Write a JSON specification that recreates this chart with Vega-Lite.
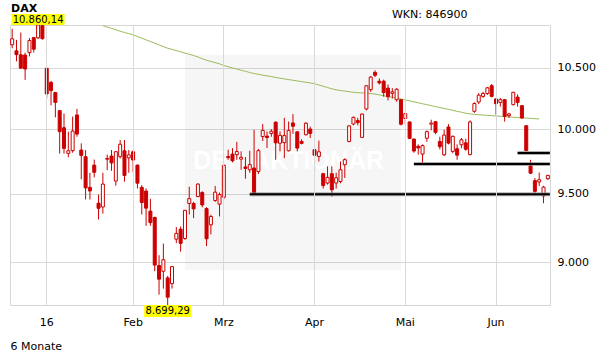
{
  "$schema": "https://vega.github.io/schema/vega-lite/v6.json",
  "width": 540,
  "height": 280,
  "autosize": {"type": "none"},
  "padding": {"left": 10, "top": 25, "right": 61, "bottom": 59},
  "background": "#ffffff",
  "config": {
    "view": {"stroke": "#d6d6d6", "strokeWidth": 1},
    "font": "DejaVu Sans",
    "axis": {"grid": true, "gridColor": "#d9d9d9", "gridWidth": 1, "ticks": false, "domain": false, "labelFont": "DejaVu Sans", "labelFontSize": 11, "labelColor": "#000000"}
  },
  "title": {"text": "DAX", "anchor": "start", "frame": "group", "font": "DejaVu Sans", "fontSize": 11, "fontWeight": "bold", "color": "#000000", "baseline": "alphabetic", "offset": 10, "dy": 25, "dx": 1},
  "datasets": {
    "k": [
      {"d":"2015-12-17","o":10691,"h":10828,"l":10662,"c":10742},
      {"d":"2015-12-18","o":10640,"h":10733,"l":10552,"c":10608},
      {"d":"2015-12-21","o":10607,"h":10795,"l":10490,"c":10495},
      {"d":"2015-12-22","o":10605,"h":10625,"l":10398,"c":10488},
      {"d":"2015-12-23","o":10625,"h":10749,"l":10593,"c":10727},
      {"d":"2015-12-28","o":10752,"h":10752,"l":10626,"c":10654},
      {"d":"2015-12-29","o":10750,"h":10860.14,"l":10740,"c":10860},
      {"d":"2015-12-30","o":10855,"h":10860,"l":10735,"c":10743},
      {"d":"2016-01-04","o":10494,"h":10494,"l":10247,"c":10283},
      {"d":"2016-01-05","o":10377,"h":10390,"l":10190,"c":10310},
      {"d":"2016-01-06","o":10294,"h":10300,"l":10094,"c":10214},
      {"d":"2016-01-07","o":10148,"h":10150,"l":9808,"c":9980},
      {"d":"2016-01-08","o":10011,"h":10125,"l":9808,"c":9849},
      {"d":"2016-01-11","o":9810,"h":9980,"l":9780,"c":9830},
      {"d":"2016-01-12","o":9831,"h":10100,"l":9815,"c":9985},
      {"d":"2016-01-13","o":10113,"h":10162,"l":9940,"c":9961},
      {"d":"2016-01-14","o":9836,"h":9888,"l":9610,"c":9794},
      {"d":"2016-01-15","o":9784,"h":9836,"l":9458,"c":9545},
      {"d":"2016-01-18","o":9549,"h":9660,"l":9458,"c":9522},
      {"d":"2016-01-19","o":9719,"h":9762,"l":9625,"c":9664},
      {"d":"2016-01-20","o":9430,"h":9495,"l":9309,"c":9392},
      {"d":"2016-01-21","o":9402,"h":9660,"l":9353,"c":9574,"ma":10855},
      {"d":"2016-01-22","o":9770,"h":9800,"l":9680,"c":9765,"ma":10843},
      {"d":"2016-01-25","o":9789,"h":9836,"l":9675,"c":9736,"ma":10831},
      {"d":"2016-01-26","o":9597,"h":9825,"l":9562,"c":9823,"ma":10819},
      {"d":"2016-01-27","o":9784,"h":9914,"l":9770,"c":9881,"ma":10807},
      {"d":"2016-01-28","o":9830,"h":9914,"l":9592,"c":9640,"ma":10796},
      {"d":"2016-01-29","o":9775,"h":9836,"l":9660,"c":9798,"ma":10786},
      {"d":"2016-02-01","o":9822,"h":9836,"l":9665,"c":9758,"ma":10776},
      {"d":"2016-02-02","o":9719,"h":9722,"l":9541,"c":9581,"ma":10762},
      {"d":"2016-02-03","o":9549,"h":9566,"l":9346,"c":9435,"ma":10748},
      {"d":"2016-02-04","o":9521,"h":9541,"l":9263,"c":9393,"ma":10733},
      {"d":"2016-02-05","o":9371,"h":9463,"l":9263,"c":9286,"ma":10719},
      {"d":"2016-02-08","o":9324,"h":9330,"l":8935,"c":8979,"ma":10705},
      {"d":"2016-02-09","o":8976,"h":9049,"l":8771,"c":8879,"ma":10690},
      {"d":"2016-02-10","o":8935,"h":9133,"l":8813,"c":9017,"ma":10676},
      {"d":"2016-02-11","o":8888,"h":8902,"l":8699.29,"c":8753,"ma":10662},
      {"d":"2016-02-12","o":8848,"h":8965,"l":8813,"c":8968,"ma":10652},
      {"d":"2016-02-15","o":9165,"h":9253,"l":9136,"c":9207,"ma":10642},
      {"d":"2016-02-16","o":9238,"h":9258,"l":9075,"c":9135,"ma":10632},
      {"d":"2016-02-17","o":9170,"h":9380,"l":9160,"c":9377,"ma":10621},
      {"d":"2016-02-18","o":9428,"h":9554,"l":9346,"c":9464,"ma":10611},
      {"d":"2016-02-19","o":9428,"h":9440,"l":9319,"c":9388,"ma":10601},
      {"d":"2016-02-22","o":9480,"h":9580,"l":9475,"c":9574,"ma":10588},
      {"d":"2016-02-23","o":9510,"h":9520,"l":9400,"c":9417,"ma":10574},
      {"d":"2016-02-24","o":9390,"h":9400,"l":9115,"c":9168,"ma":10561},
      {"d":"2016-02-25","o":9270,"h":9345,"l":9200,"c":9331,"ma":10551},
      {"d":"2016-02-26","o":9450,"h":9560,"l":9440,"c":9513,"ma":10541},
      {"d":"2016-02-29","o":9423,"h":9510,"l":9332,"c":9495,"ma":10531},
      {"d":"2016-03-01","o":9475,"h":9725,"l":9460,"c":9717,"ma":10517},
      {"d":"2016-03-02","o":9785,"h":9838,"l":9760,"c":9777,"ma":10507},
      {"d":"2016-03-03","o":9804,"h":9851,"l":9740,"c":9752,"ma":10497},
      {"d":"2016-03-04","o":9800,"h":9900,"l":9760,"c":9824,"ma":10488},
      {"d":"2016-03-07","o":9765,"h":9826,"l":9683,"c":9779,"ma":10478},
      {"d":"2016-03-08","o":9705,"h":9781,"l":9615,"c":9693,"ma":10469},
      {"d":"2016-03-09","o":9683,"h":9830,"l":9660,"c":9723,"ma":10459},
      {"d":"2016-03-10","o":9697,"h":9995,"l":9498,"c":9498,"ma":10450},
      {"d":"2016-03-11","o":9670,"h":9845,"l":9650,"c":9831,"ma":10444},
      {"d":"2016-03-14","o":9942,"h":10040,"l":9907,"c":9990,"ma":10437},
      {"d":"2016-03-15","o":9945,"h":9982,"l":9851,"c":9934,"ma":10431},
      {"d":"2016-03-16","o":9965,"h":10000,"l":9940,"c":9983,"ma":10425},
      {"d":"2016-03-17","o":10055,"h":10062,"l":9760,"c":9892,"ma":10418},
      {"d":"2016-03-18","o":9889,"h":9982,"l":9826,"c":9951,"ma":10412},
      {"d":"2016-03-21","o":9894,"h":10090,"l":9773,"c":9949,"ma":10406},
      {"d":"2016-03-22","o":9830,"h":10060,"l":9825,"c":9990,"ma":10400},
      {"d":"2016-03-23","o":10049,"h":10120,"l":9963,"c":10023,"ma":10395},
      {"d":"2016-03-24","o":9979,"h":9980,"l":9825,"c":9851,"ma":10389},
      {"d":"2016-03-29","o":9903,"h":9920,"l":9880,"c":9888,"ma":10384},
      {"d":"2016-03-30","o":9956,"h":10055,"l":9950,"c":10047,"ma":10378},
      {"d":"2016-03-31","o":10001,"h":10020,"l":9930,"c":9966,"ma":10373},
      {"d":"2016-04-01","o":9838,"h":9860,"l":9670,"c":9795,"ma":10367},
      {"d":"2016-04-04","o":9786,"h":9910,"l":9747,"c":9822,"ma":10356},
      {"d":"2016-04-05","o":9653,"h":9660,"l":9540,"c":9563,"ma":10346},
      {"d":"2016-04-06","o":9582,"h":9709,"l":9570,"c":9625,"ma":10335},
      {"d":"2016-04-07","o":9653,"h":9709,"l":9480,"c":9531,"ma":10325},
      {"d":"2016-04-08","o":9582,"h":9660,"l":9540,"c":9622,"ma":10316},
      {"d":"2016-04-11","o":9594,"h":9747,"l":9580,"c":9683,"ma":10311},
      {"d":"2016-04-12","o":9722,"h":9772,"l":9620,"c":9761,"ma":10306},
      {"d":"2016-04-13","o":9903,"h":10030,"l":9895,"c":10026,"ma":10301},
      {"d":"2016-04-14","o":10041,"h":10100,"l":10030,"c":10094,"ma":10296},
      {"d":"2016-04-15","o":10068,"h":10090,"l":10030,"c":10052,"ma":10293},
      {"d":"2016-04-18","o":9935,"h":10125,"l":9930,"c":10120,"ma":10291},
      {"d":"2016-04-19","o":10161,"h":10350,"l":10150,"c":10350,"ma":10289},
      {"d":"2016-04-20","o":10318,"h":10430,"l":10300,"c":10421,"ma":10286},
      {"d":"2016-04-21","o":10460,"h":10477,"l":10420,"c":10436,"ma":10282},
      {"d":"2016-04-22","o":10387,"h":10410,"l":10360,"c":10373,"ma":10275},
      {"d":"2016-04-25","o":10387,"h":10400,"l":10260,"c":10294,"ma":10268},
      {"d":"2016-04-26","o":10330,"h":10360,"l":10230,"c":10260,"ma":10262},
      {"d":"2016-04-27","o":10288,"h":10330,"l":10245,"c":10300,"ma":10255},
      {"d":"2016-04-28","o":10236,"h":10330,"l":10220,"c":10321,"ma":10249},
      {"d":"2016-04-29","o":10236,"h":10240,"l":10030,"c":10039,"ma":10242},
      {"d":"2016-05-02","o":10085,"h":10130,"l":10040,"c":10123,"ma":10234},
      {"d":"2016-05-03","o":10057,"h":10060,"l":9920,"c":9927,"ma":10226},
      {"d":"2016-05-04","o":9922,"h":9925,"l":9815,"c":9828,"ma":10219},
      {"d":"2016-05-05","o":9865,"h":9880,"l":9800,"c":9852,"ma":10211},
      {"d":"2016-05-06","o":9804,"h":9880,"l":9735,"c":9870,"ma":10203},
      {"d":"2016-05-09","o":9928,"h":9990,"l":9900,"c":9980,"ma":10196},
      {"d":"2016-05-10","o":10040,"h":10075,"l":9990,"c":10048,"ma":10188},
      {"d":"2016-05-11","o":10059,"h":10065,"l":9960,"c":9975,"ma":10180},
      {"d":"2016-05-12","o":9903,"h":9940,"l":9840,"c":9862,"ma":10173},
      {"d":"2016-05-13","o":9799,"h":9996,"l":9790,"c":9953,"ma":10165},
      {"d":"2016-05-17","o":10017,"h":10040,"l":9880,"c":9890,"ma":10158},
      {"d":"2016-05-18","o":9825,"h":9950,"l":9810,"c":9943,"ma":10150},
      {"d":"2016-05-19","o":9846,"h":9880,"l":9760,"c":9796,"ma":10142},
      {"d":"2016-05-20","o":9877,"h":9930,"l":9850,"c":9916,"ma":10135},
      {"d":"2016-05-23","o":9892,"h":9925,"l":9830,"c":9842,"ma":10127},
      {"d":"2016-05-24","o":9800,"h":10070,"l":9795,"c":10057,"ma":10121},
      {"d":"2016-05-25","o":10142,"h":10215,"l":10130,"c":10205,"ma":10118},
      {"d":"2016-05-26","o":10217,"h":10290,"l":10200,"c":10273,"ma":10115},
      {"d":"2016-05-27","o":10263,"h":10300,"l":10250,"c":10286,"ma":10112},
      {"d":"2016-05-30","o":10286,"h":10340,"l":10275,"c":10333,"ma":10110},
      {"d":"2016-05-31","o":10350,"h":10365,"l":10255,"c":10263,"ma":10107},
      {"d":"2016-06-01","o":10242,"h":10250,"l":10115,"c":10204,"ma":10105},
      {"d":"2016-06-02","o":10214,"h":10250,"l":10180,"c":10236,"ma":10102},
      {"d":"2016-06-03","o":10236,"h":10240,"l":10060,"c":10102,"ma":10100},
      {"d":"2016-06-06","o":10107,"h":10130,"l":10090,"c":10121,"ma":10097},
      {"d":"2016-06-07","o":10196,"h":10300,"l":10190,"c":10296,"ma":10095},
      {"d":"2016-06-08","o":10257,"h":10280,"l":10180,"c":10214,"ma":10093},
      {"d":"2016-06-09","o":10188,"h":10190,"l":10080,"c":10089,"ma":10090},
      {"d":"2016-06-10","o":10027,"h":10030,"l":9825,"c":9832,"ma":10088},
      {"d":"2016-06-13","o":9714,"h":9760,"l":9650,"c":9657,"ma":10086},
      {"d":"2016-06-14","o":9600,"h":9620,"l":9505,"c":9519,"ma":10083},
      {"d":"2016-06-15","o":9590,"h":9662,"l":9560,"c":9607,"ma":10081},
      {"d":"2016-06-16","o":9485,"h":9560,"l":9430,"c":9551},
      {"d":"2016-06-17","o":9615,"h":9645,"l":9605,"c":9640}
    ],
    "lv": [
      {"s":"2016-03-09","e":"2016-06-17","v":9498},
      {"s":"2016-05-04","e":"2016-06-17","v":9727},
      {"s":"2016-06-08","e":"2016-06-17","v":9812}
    ],
    "ext": [
      {"d":"2015-12-29","v":10860.14,"t":"10.860,14","pos":"top"},
      {"d":"2016-02-11","v":8699.29,"t":"8.699,29","pos":"bottom"}
    ],
    "wm": [
      {"a":"2016-02-17","b":"2016-04-29","top":10607,"bot":8944,"mid":"2016-03-22","yv":9752,"t":"DER AKTIONÄR"}
    ]
  },
  "layer": [
    {
      "data": {"name": "wm"},
      "mark": {"type": "rect", "fill": "#000000", "fillOpacity": 0.035},
      "encoding": {
        "x": {"field": "a", "type": "ordinal",
          "scale": {"type": "band", "paddingInner": 0, "paddingOuter": 0},
          "axis": {
            "values": ["2016-01-04","2016-02-01","2016-03-01","2016-04-01","2016-05-02","2016-06-01"],
            "labelExpr": "datum.value == '2016-01-04' ? '16' : datum.value == '2016-02-01' ? 'Feb' : datum.value == '2016-03-01' ? 'Mrz' : datum.value == '2016-04-01' ? 'Apr' : datum.value == '2016-05-02' ? 'Mai' : 'Jun'",
            "labelAngle": 0, "labelPadding": 11, "bandPosition": 0.5,
            "title": "6 Monate", "titleFont": "DejaVu Sans", "titleFontSize": 11, "titleFontWeight": "normal", "titleColor": "#000000",
            "titleAnchor": "start", "titleAlign": "left", "titleBaseline": "middle", "titleX": 0, "titleY": 41.5
          }
        },
        "x2": {"field": "b"},
        "y": {"field": "top", "type": "quantitative",
          "scale": {"type": "log", "domain": [8699.29, 10860.14], "nice": false, "zero": false},
          "axis": {
            "orient": "right", "values": [9000, 9500, 10000, 10500],
            "labelExpr": "replace(format(datum.value, ',.0f'), ',', '.')",
            "labelPadding": 7,
            "title": "WKN: 846900", "titleAngle": 0, "titleAlign": "right", "titleBaseline": "middle",
            "titleX": -83, "titleY": -11, "titleFont": "DejaVu Sans", "titleFontSize": 11, "titleFontWeight": "normal", "titleColor": "#000000"
          }
        },
        "y2": {"field": "bot"}
      }
    },
    {
      "data": {"name": "wm"},
      "mark": {"type": "text", "font": "Liberation Sans", "fontSize": 25, "fontWeight": "bold", "fill": "#ffffff", "align": "center", "baseline": "middle"},
      "encoding": {
        "x": {"field": "mid", "type": "ordinal"},
        "y": {"field": "yv", "type": "quantitative"},
        "text": {"field": "t"}
      }
    },
    {
      "data": {"name": "k"},
      "mark": {"type": "line", "color": "#9bbb59", "strokeWidth": 1},
      "encoding": {
        "x": {"field": "d", "type": "ordinal"},
        "y": {"field": "ma", "type": "quantitative"}
      }
    },
    {
      "data": {"name": "k"},
      "mark": {"type": "rule", "color": "#cc0000", "strokeWidth": 1},
      "encoding": {
        "x": {"field": "d", "type": "ordinal"},
        "y": {"field": "l", "type": "quantitative"},
        "y2": {"field": "h"}
      }
    },
    {
      "data": {"name": "k"},
      "mark": {"type": "bar", "width": 3, "stroke": "#cc0000", "strokeWidth": 1},
      "encoding": {
        "x": {"field": "d", "type": "ordinal"},
        "y": {"field": "o", "type": "quantitative"},
        "y2": {"field": "c"},
        "fill": {"condition": {"test": "datum.c < datum.o", "value": "#cc0000"}, "value": "#ffffff"}
      }
    },
    {
      "data": {"name": "lv"},
      "mark": {"type": "rule", "color": "#8c8c8c", "strokeWidth": 4, "opacity": 0.7, "x2Offset": 2},
      "encoding": {
        "x": {"field": "s", "type": "ordinal"},
        "x2": {"field": "e"},
        "y": {"field": "v", "type": "quantitative"}
      }
    },
    {
      "data": {"name": "lv"},
      "mark": {"type": "rule", "color": "#000000", "strokeWidth": 2, "x2Offset": 2},
      "encoding": {
        "x": {"field": "s", "type": "ordinal"},
        "x2": {"field": "e"},
        "y": {"field": "v", "type": "quantitative"}
      }
    },
    {
      "data": {"name": "ext"},
      "transform": [{"filter": "datum.pos == 'top'"}],
      "mark": {"type": "rect", "fill": "#ffff00", "width": 53, "height": 11, "yOffset": -5.5},
      "encoding": {
        "x": {"field": "d", "type": "ordinal"},
        "y": {"field": "v", "type": "quantitative"}
      }
    },
    {
      "data": {"name": "ext"},
      "transform": [{"filter": "datum.pos == 'top'"}],
      "mark": {"type": "text", "font": "DejaVu Sans", "fontSize": 10, "color": "#000000", "align": "center", "baseline": "middle", "dy": -5.5},
      "encoding": {
        "x": {"field": "d", "type": "ordinal"},
        "y": {"field": "v", "type": "quantitative"},
        "text": {"field": "t"}
      }
    },
    {
      "data": {"name": "ext"},
      "transform": [{"filter": "datum.pos == 'bottom'"}],
      "mark": {"type": "rect", "fill": "#ffff00", "width": 47, "height": 12, "yOffset": 6},
      "encoding": {
        "x": {"field": "d", "type": "ordinal"},
        "y": {"field": "v", "type": "quantitative"}
      }
    },
    {
      "data": {"name": "ext"},
      "transform": [{"filter": "datum.pos == 'bottom'"}],
      "mark": {"type": "text", "font": "DejaVu Sans", "fontSize": 10, "color": "#000000", "align": "center", "baseline": "middle", "dy": 6},
      "encoding": {
        "x": {"field": "d", "type": "ordinal"},
        "y": {"field": "v", "type": "quantitative"},
        "text": {"field": "t"}
      }
    }
  ]
}
